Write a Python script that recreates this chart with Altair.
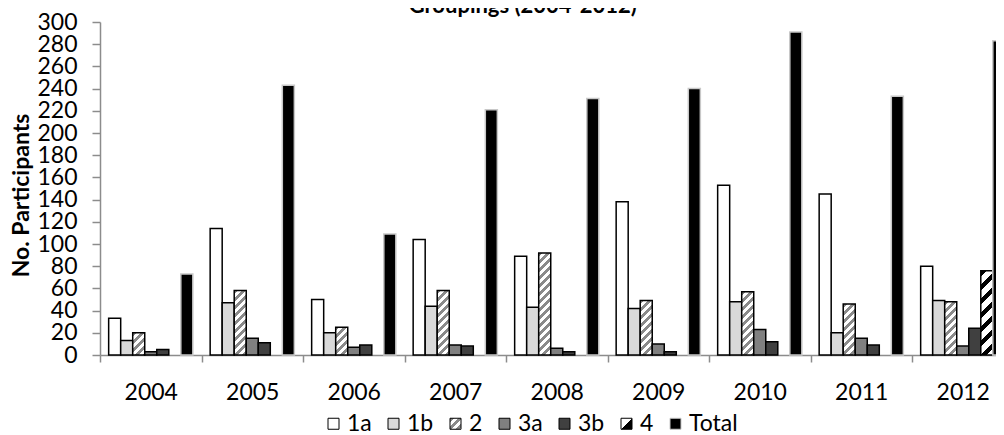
import json
import pandas as pd
import altair as alt

# ---- data ----
years = ["2004", "2005", "2006", "2007", "2008", "2009", "2010", "2011", "2012"]
series = ["1a", "1b", "2", "3a", "3b", "4", "Total"]
v_1a = [33, 114, 50, 104, 89, 138, 153, 145, 80]
v_1b = [13, 47, 20, 44, 43, 42, 48, 20, 49]
v_2 = [20, 58, 25, 58, 92, 49, 57, 46, 48]
v_3a = [3, 15, 7, 9, 6, 10, 23, 15, 8]
v_3b = [5, 11, 9, 8, 3, 3, 12, 9, 24]
v_4 = [0, 0, 0, 0, 0, 0, 0, 0, 76]
v_total = [73, 243, 109, 221, 231, 240, 291, 233, 283]
y_ticks = list(range(0, 301, 20))

rows = []
for s, vals in zip(series, [v_1a, v_1b, v_2, v_3a, v_3b, v_4, v_total]):
    for yr, v in zip(years, vals):
        rows.append({"year": yr, "series": s, "value": v})
df = pd.DataFrame(rows)

# ---- hatch patterns built as striped linear gradients ----
L = 420.0


def stripes(c1, c2, period, frac, length):
    stops = []
    pos = 0.0
    while pos < length - 1e-9:
        a = min(pos / length, 1)
        b = min((pos + period * frac) / length, 1)
        c = min((pos + period) / length, 1)
        stops += [
            {"offset": round(a, 5), "color": c1},
            {"offset": round(b, 5), "color": c1},
            {"offset": round(b, 5), "color": c2},
            {"offset": round(c, 5), "color": c2},
        ]
        pos += period
    return json.dumps(stops)


W = "bandwidth('xOffset')"
H = "(scale('y', 0) - scale('y', datum.value))"
D = "(%s*%s + %s*%s)" % (W, W, H, H)


def bar_grad(stops):
    return "{gradient: 'linear', x1: 0, y1: 0, x2: %g*%s/%s, y2: %g*%s/%s, stops: %s}" % (
        L, W, D, L, H, D, stops)


stops2 = stripes("#8a8a8a", "#ffffff", 8.0, 0.5, L)
stops4 = stripes("#000000", "#ffffff", 14.0, 0.45, L)
hatch_expr = "datum.series === '2' ? " + bar_grad(stops2) + " : " + bar_grad(stops4)

leg2 = stripes("#8a8a8a", "#ffffff", 0.36, 0.5, 1.0)
leg4 = json.dumps([{"offset": 0, "color": "#ffffff"}, {"offset": 0.5, "color": "#ffffff"},
                   {"offset": 0.5, "color": "#000000"}, {"offset": 1, "color": "#000000"}])
fill_range = [
    "#ffffff",
    "#d9d9d9",
    alt.ExprRef(expr="{gradient: 'linear', x1: 0, y1: 0, x2: 1, y2: 1, stops: " + leg2 + "}"),
    "#808080",
    "#404040",
    alt.ExprRef(expr="{gradient: 'linear', x1: 0, y1: 0, x2: 1, y2: 1, stops: " + leg4 + "}"),
    "#000000",
]
stroke_range = ["#000000", "#000000", "#000000", "#000000", "#000000", "#000000", "#c8c8c8"]

FONT = "Lato"
FS = 23
AXIS_GRAY = "#8c8c8c"

chart = (
    alt.Chart(df)
    .transform_filter("datum.value > 0")
    .mark_bar(strokeWidth=1.5)
    .encode(
        x=alt.X(
            "year:N",
            sort=years,
            scale=alt.Scale(paddingInner=0, paddingOuter=0),
            axis=alt.Axis(
                title=None, labelAngle=0, tickBand="extent", tickSize=7,
                labelPadding=19, labelFontSize=FS, labelFont=FONT, labelColor="#000000",
                domainColor=AXIS_GRAY, tickColor=AXIS_GRAY, domainWidth=1.5, tickWidth=1.5,
                grid=False,
            ),
        ),
        xOffset=alt.XOffset(
            "series:N",
            scale=alt.Scale(domain=series, paddingInner=0, paddingOuter=0.72),
        ),
        y=alt.Y(
            "value:Q",
            scale=alt.Scale(domain=[0, 300], nice=False, zero=True),
            axis=alt.Axis(
                values=y_ticks, title="No. Participants", titleFontSize=23,
                titleFont=FONT, titleFontWeight="bold", titleColor="#000000",
                titlePadding=3, titleY=173, tickSize=8, labelPadding=15, labelFontSize=FS,
                labelFont=FONT, labelColor="#000000", labelOverlap=False,
                domainColor=AXIS_GRAY, tickColor=AXIS_GRAY, domainWidth=1.5,
                tickWidth=1.5, grid=False,
            ),
        ),
        fill=alt.Fill(
            "series:N",
            scale=alt.Scale(domain=series, range=fill_range),
            condition={
                "test": "datum.series === '2' || datum.series === '4'",
                "value": {"expr": hatch_expr},
            },
            legend=alt.Legend(
                title=None, orient="none", legendX=222, legendY=390,
                direction="horizontal", symbolType="square", symbolSize=121,
                symbolStrokeColor="#000000", symbolStrokeWidth=1,
                labelFontSize=FS, labelFont=FONT, labelColor="#000000",
                labelOffset=2, columnPadding=10, padding=0,
            ),
        ),
        stroke=alt.Stroke(
            "series:N",
            scale=alt.Scale(domain=series, range=stroke_range),
            legend=None,
        ),
    )
    .properties(
        width=913.5,
        height=333,
        title=alt.TitleParams(
            "Groupings (2004-2012)", font=FONT, fontSize=22, fontWeight="bold",
            color="#000000", anchor="middle", frame="group", baseline="alphabetic",
            offset=-24, dx=-34,
        ),
        autosize=alt.AutoSizeParams(type="none"),
        padding={"left": 92, "top": 14, "right": -17.5, "bottom": 80},
        background="#ffffff",
    )
    .configure_view(stroke=None)
)

chart.save("out.html", embed_options={"renderer": "svg", "actions": False})
